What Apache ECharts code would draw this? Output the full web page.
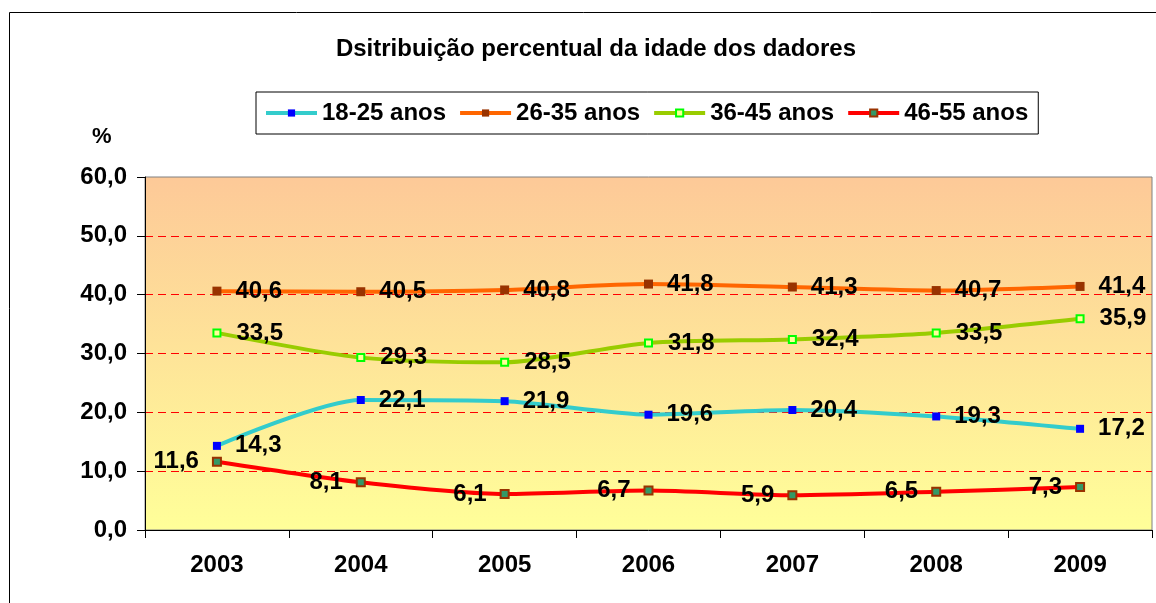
<!DOCTYPE html>
<html>
<head>
<meta charset="utf-8">
<script src="https://cdn.jsdelivr.net/npm/echarts@6/dist/echarts.min.js"></script>
<style>
  html, body { margin: 0; padding: 0; background: #fff; }
  #chart { width: 1156px; height: 603px; }
</style>
</head>
<body>
<div id="chart"></div>
<script>
const years = ['2003', '2004', '2005', '2006', '2007', '2008', '2009'];
const age18_25 = [14.3, 22.1, 21.9, 19.6, 20.4, 19.3, 17.2];
const age26_35 = [40.6, 40.5, 40.8, 41.8, 41.3, 40.7, 41.4];
const age36_45 = [33.5, 29.3, 28.5, 31.8, 32.4, 33.5, 35.9];
const age46_55 = [11.6, 8.1, 6.1, 6.7, 5.9, 6.5, 7.3];
const yTicks = [0, 60, 10]; // min, max, interval

const font = 'Arial, "Liberation Sans", sans-serif';
const comma = v => Number(v).toFixed(1).replace('.', ',');

const chart = echarts.init(document.getElementById('chart'));

// one helper per series so the four look alike
function makeSeries(name, data, lineColor, marker, labelPos, labelDist) {
  return {
    name: name,
    type: 'line',
    data: data,
    smooth: 0.25,
    symbol: 'rect',
    symbolSize: marker.size,
    lineStyle: { color: lineColor, width: 4 },
    itemStyle: {
      color: marker.fill,
      borderColor: marker.border,
      borderWidth: marker.borderWidth
    },
    label: {
      show: true,
      position: labelPos,
      distance: labelDist,
      formatter: p => comma(p.value),
      color: '#000',
      fontFamily: font,
      fontWeight: 'bold',
      fontSize: 24
    },
    emphasis: { disabled: true }
  };
}

const option = {
  animation: false,
  title: {
    text: 'Dsitribuição percentual da idade dos dadores',
    left: 591,
    top: 32,
    textAlign: 'center',
    textStyle: { fontFamily: font, fontWeight: 'bold', fontSize: 24, color: '#000' }
  },
  legend: {
    left: 256,
    top: 92,
    padding: [9, 10, 9, 8],
    itemWidth: 51,
    itemHeight: 9,
    itemGap: 12,
    borderColor: '#000',
    borderWidth: 1,
    lineStyle: { width: 4 },
    textStyle: { fontFamily: font, fontWeight: 'bold', fontSize: 24, color: '#000' },
    data: ['18-25 anos', '26-35 anos', '36-45 anos', '46-55 anos']
  },
  graphic: [
    // outer chart frame, cut off on the right and bottom like the original
    { type: 'rect', left: 7, top: 10, shape: { width: 1300, height: 800 },
      style: { fill: null, stroke: '#000', lineWidth: 1 }, silent: true },
    { type: 'text', left: 92, top: 126,
      style: { text: '%', font: 'bold 22px ' + font, fill: '#000' } }
  ],
  grid: {
    left: 145, right: 4, top: 177, bottom: 73,
    show: true,
    borderColor: '#808080',
    borderWidth: 1,
    backgroundColor: new echarts.graphic.LinearGradient(0, 0, 0, 1, [
      { offset: 0, color: '#FDC998' },
      { offset: 1, color: '#FFFF99' }
    ])
  },
  xAxis: {
    type: 'category',
    data: years,
    boundaryGap: true,
    axisLine: { lineStyle: { color: '#000', width: 1 } },
    axisTick: { show: true, length: 8, lineStyle: { color: '#000' } },
    axisLabel: { margin: 23, color: '#000', fontFamily: font, fontWeight: 'bold', fontSize: 24 },
    splitLine: { show: false }
  },
  yAxis: {
    type: 'value',
    min: yTicks[0],
    max: yTicks[1],
    interval: yTicks[2],
    axisLine: { show: true, lineStyle: { color: '#000', width: 1 } },
    axisTick: { show: true, length: 8, lineStyle: { color: '#000' } },
    axisLabel: {
      margin: 18, color: '#000', fontFamily: font, fontWeight: 'bold', fontSize: 24,
      formatter: v => comma(v)
    },
    splitLine: {
      show: true,
      showMinLine: false,
      showMaxLine: false,
      lineStyle: { color: '#FF0000', width: 1, type: [8, 5] }
    }
  },
  series: [
    makeSeries('18-25 anos', age18_25, '#33CCCC',
      { size: 8, fill: '#0000FF', border: '#0000FF', borderWidth: 0 }, 'right', 14),
    makeSeries('26-35 anos', age26_35, '#FF6600',
      { size: 9, fill: '#993300', border: '#993300', borderWidth: 0 }, 'right', 14),
    makeSeries('36-45 anos', age36_45, '#99CC00',
      { size: 7, fill: '#FFFF99', border: '#00FF00', borderWidth: 2 }, 'right', 15),
    makeSeries('46-55 anos', age46_55, '#FF0000',
      { size: 8, fill: '#339966', border: '#993300', borderWidth: 2 }, 'left', 13)
  ]
};

chart.setOption(option);
window.addEventListener('resize', chart.resize);
</script>
</body>
</html>
